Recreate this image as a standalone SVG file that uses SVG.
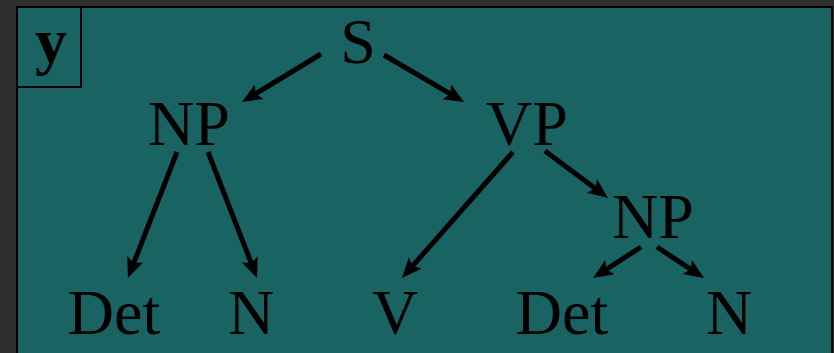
<svg xmlns="http://www.w3.org/2000/svg" width="834" height="353" viewBox="0 0 834 353">
<style>
.t{font-family:"Liberation Serif","Times New Roman",serif;font-size:64px;fill:#000;text-anchor:middle}
.e{stroke:#000;stroke-width:5;fill:none;marker-end:url(#ah)}
</style>
<defs>
<marker id="ah" markerUnits="userSpaceOnUse" markerWidth="22" markerHeight="20" viewBox="0 -10 22 20" refX="8" refY="0" orient="auto">
<path d="M0,-8.5 L20,0 L0,8.5 L4,0 z" fill="#000"/>
</marker>
</defs>
<rect x="0" y="0" width="834" height="353" fill="#2e2e2e"/>
<rect x="17" y="7" width="815" height="360" fill="#1a6363" stroke="#000" stroke-width="2"/>
<g id="label-y">
<rect x="17" y="7" width="64" height="80" fill="none" stroke="#000" stroke-width="2"/>
<text x="51" y="62" class="t" style="font-weight:bold">y</text>
</g>
<g id="n-S"><text class="t" x="358" y="63">S</text></g>
<g id="n-NP1"><text class="t" x="189" y="145">NP</text></g>
<g id="n-VP"><text class="t" x="527" y="145">VP</text></g>
<g id="n-NP2"><text class="t" x="653" y="238">NP</text></g>
<g id="n-Det1"><text class="t" x="114" y="334">Det</text></g>
<g id="n-N1"><text class="t" x="251" y="334">N</text></g>
<g id="n-V"><text class="t" x="395" y="334">V</text></g>
<g id="n-Det2"><text class="t" x="562" y="334">Det</text></g>
<g id="n-N2"><text class="t" x="729" y="334">N</text></g>
<g id="edges">
<line class="e" x1="321" y1="54" x2="252.3" y2="95.8"/>
<line class="e" x1="384" y1="55" x2="453.7" y2="95.9"/>
<line class="e" x1="177" y1="152" x2="132.3" y2="266.8"/>
<line class="e" x1="208" y1="152" x2="252.7" y2="266.8"/>
<line class="e" x1="513" y1="152" x2="409.9" y2="269"/>
<line class="e" x1="545" y1="151" x2="598.4" y2="190.8"/>
<line class="e" x1="641" y1="247" x2="603.1" y2="271.5"/>
<line class="e" x1="657" y1="247" x2="694" y2="271.4"/>
</g>
</svg>
